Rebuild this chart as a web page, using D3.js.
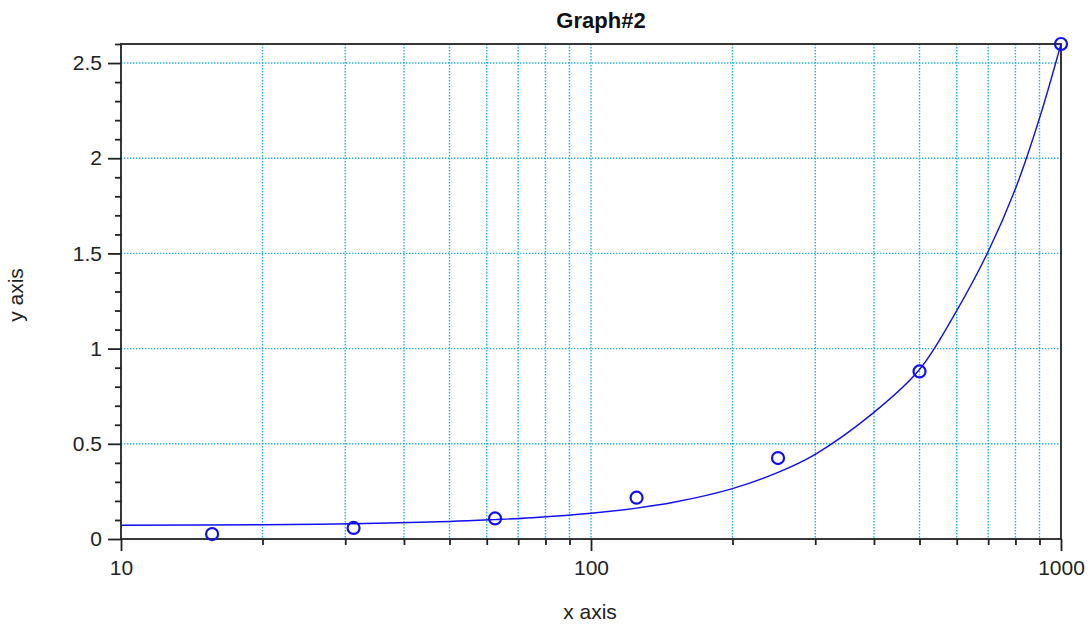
<!DOCTYPE html>
<html><head><meta charset="utf-8">
<script src="https://cdn.jsdelivr.net/npm/d3@7"></script>
<style>
html,body{margin:0;padding:0;background:#fff;}
svg{display:block;font-family:"Liberation Sans",Arial,sans-serif;}
</style></head>
<body>
<svg id="c" width="1088" height="624"></svg>
<script>
const title = "Graph#2";
const xLabel = "x axis";
const yLabel = "y axis";
const pointX = [15.625, 31.25, 62.5, 125, 250, 500, 1000];
const pointY = [0.026, 0.058, 0.108, 0.217, 0.425, 0.88, 2.6];
const curveX = [10, 20, 31, 50, 62.5, 75, 100, 125, 150, 200, 250, 300, 400, 500, 600, 700, 800, 900, 1000];
const curveY = [0.072, 0.075, 0.08, 0.092, 0.102, 0.112, 0.135, 0.162, 0.193, 0.265, 0.35, 0.445, 0.665, 0.89, 1.2, 1.51, 1.84, 2.21, 2.6];
const xMajorTicks = [10, 100, 1000];
const xGridTicks = [20,30,40,50,60,70,80,90,100,200,300,400,500,600,700,800,900];
const yMajorTicks = [0, 0.5, 1, 1.5, 2, 2.5];
const yMinorTicks = [0.1,0.2,0.3,0.4,0.6,0.7,0.8,0.9,1.1,1.2,1.3,1.4,1.6,1.7,1.8,1.9,2.1,2.2,2.3,2.4,2.6];

const L = 121, R = 1061, T = 44, B = 539;
const svg = d3.select("#c");
const x = d3.scaleLog().domain([10, 1000]).range([L, R]);
const y = d3.scaleLinear().domain([0, 2.6]).range([B, T]);
const gridColor = "#1fb0f2";
const FONT = "Liberation Sans, Arial, sans-serif";

// grid
const g = svg.append("g");
g.selectAll("line.vg").data(xGridTicks).join("line")
  .attr("x1", d => x(d)).attr("x2", d => x(d)).attr("y1", T).attr("y2", B)
  .attr("stroke", gridColor).attr("stroke-width", 1.4).attr("stroke-dasharray", "1.4,1.6");
g.selectAll("line.hg").data(yMajorTicks.filter(d => d > 0)).join("line")
  .attr("x1", L).attr("x2", R).attr("y1", d => y(d)).attr("y2", d => y(d))
  .attr("stroke", gridColor).attr("stroke-width", 1.4).attr("stroke-dasharray", "1.4,1.6");

// frame
svg.append("rect").attr("x", L).attr("y", T).attr("width", R - L).attr("height", B - T)
  .attr("fill", "none").attr("stroke", "#222").attr("stroke-width", 1.8);

// x axis ticks
const allXMinor = [];
[10, 100].forEach(dec => { for (let k = 2; k <= 9; k++) allXMinor.push(dec * k); });
const xAxisMinor = d3.axisBottom(x).tickValues(allXMinor.filter(v => v !== 100)).tickSize(6).tickFormat("");
const xAxisMajor = d3.axisBottom(x).tickValues(xMajorTicks).tickSize(12).tickPadding(9).tickFormat(d3.format("d"));
const gxm = svg.append("g").attr("transform", `translate(0,${B})`).call(xAxisMinor);
const gx = svg.append("g").attr("transform", `translate(0,${B})`).call(xAxisMajor);
[gxm, gx].forEach(s => { s.select(".domain").remove(); s.selectAll("line").attr("stroke", "#222").attr("stroke-width", 1.8); });
gx.selectAll("text").attr("font-size", 21).attr("fill", "#222").attr("font-family", FONT);

// y axis ticks
const yAxisMinor = d3.axisLeft(y).tickValues(yMinorTicks).tickSize(6).tickFormat("");
const yAxisMajor = d3.axisLeft(y).tickValues(yMajorTicks).tickSize(13).tickPadding(6).tickFormat(d => d3.format("")(d));
const gym = svg.append("g").attr("transform", `translate(${L},0)`).call(yAxisMinor);
const gy = svg.append("g").attr("transform", `translate(${L},0)`).call(yAxisMajor);
[gym, gy].forEach(s => { s.select(".domain").remove(); s.selectAll("line").attr("stroke", "#222").attr("stroke-width", 1.8); });
gy.selectAll("text").attr("font-size", 21).attr("fill", "#222").attr("font-family", FONT);

// curve
const curveData = curveX.map((v, i) => [v, curveY[i]]);
svg.append("path").datum(curveData)
  .attr("fill", "none").attr("stroke", "#1010ee").attr("stroke-width", 1.4)
  .attr("d", d3.line().x(d => x(d[0])).y(d => y(d[1])).curve(d3.curveCatmullRom.alpha(0.5)));

// points
const pts = pointX.map((v, i) => [v, pointY[i]]);
svg.selectAll("circle.p").data(pts).join("circle")
  .attr("cx", d => x(d[0])).attr("cy", d => y(d[1])).attr("r", 6)
  .attr("fill", "none").attr("stroke", "#1010ee").attr("stroke-width", 2.2);

// labels
svg.append("text").attr("x", 601).attr("y", 28).attr("text-anchor", "middle")
  .attr("font-size", 22).attr("font-weight", "bold").attr("fill", "#111").attr("font-family", FONT).text(title);
svg.append("text").attr("x", 590).attr("y", 619).attr("text-anchor", "middle")
  .attr("font-size", 21).attr("fill", "#222").attr("font-family", FONT).text(xLabel);
svg.append("text").attr("transform", "translate(23,295) rotate(-90)").attr("text-anchor", "middle")
  .attr("font-size", 21).attr("fill", "#222").attr("font-family", FONT).text(yLabel);
</script>
</body></html>
